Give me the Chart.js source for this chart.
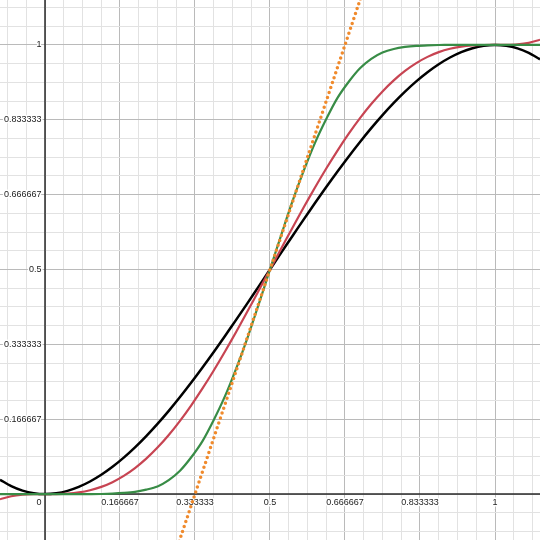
<!DOCTYPE html>
<html>
<head>
<meta charset="utf-8">
<script src="https://cdn.jsdelivr.net/npm/chart.js@4.4.1/dist/chart.umd.min.js"></script>
<style>
  html, body { margin: 0; padding: 0; background: #fff; }
  #wrap { width: 540px; height: 540px; }
</style>
</head>
<body>
<div id="wrap"><canvas id="chart" width="540" height="540"></canvas></div>
<script>
// Sample points (x every 0.025)
const xs = [-0.1, -0.075, -0.05, -0.025, 0, 0.025, 0.05, 0.075, 0.1, 0.125, 0.15, 0.175, 0.2, 0.225, 0.25, 0.275,
            0.3, 0.325, 0.35, 0.375, 0.4, 0.425, 0.45, 0.475, 0.5, 0.525, 0.55, 0.575, 0.6, 0.625, 0.65, 0.675,
            0.7, 0.725, 0.75, 0.775, 0.8, 0.825, 0.85, 0.875, 0.9, 0.925, 0.95, 0.975, 1, 1.025, 1.05, 1.075, 1.1];

const blackYs = [0.032, 0.01772, 0.00775, 0.00191, 0, 0.00184, 0.00725, 0.01603, 0.028, 0.04297, 0.06075, 0.08116,
                 0.104, 0.12909, 0.15625, 0.18528, 0.216, 0.24822, 0.28175, 0.31641, 0.352, 0.38834, 0.42525, 0.46253,
                 0.5, 0.53747, 0.57475, 0.61166, 0.648, 0.68359, 0.71825, 0.75178, 0.784, 0.81472, 0.84375, 0.87091,
                 0.896, 0.91884, 0.93925, 0.95703, 0.972, 0.98397, 0.99275, 0.99816, 1, 0.99809, 0.99225, 0.98228, 0.968];

const redYs = [-0.01156, -0.00471, -0.00135, -0.00016, 0, 0.00015, 0.00116, 0.00376, 0.00856, 0.01605, 0.02661, 0.04051,
               0.05792, 0.07892, 0.10352, 0.13162, 0.16308, 0.19769, 0.23517, 0.27521, 0.31744, 0.36147, 0.40687, 0.4532,
               0.5, 0.5468, 0.59313, 0.63853, 0.68256, 0.72479, 0.76483, 0.80231, 0.83692, 0.86838, 0.89648, 0.92108,
               0.94208, 0.95949, 0.97339, 0.98395, 0.99144, 0.99624, 0.99884, 0.99985, 1, 1.00016, 1.00135, 1.00471, 1.01156];

const greenYs = [0, 0, 0, 0, 0, 0, 0, 0, 0, 0.0002, 0.001, 0.0025,
                 0.005, 0.01, 0.017, 0.031, 0.052, 0.082, 0.118, 0.165, 0.218, 0.28, 0.348, 0.423,
                 0.5, 0.577, 0.652, 0.72, 0.782, 0.835, 0.882, 0.918, 0.948, 0.969, 0.983, 0.991,
                 0.9955, 0.998, 0.9992, 0.9998, 1, 1, 1, 1, 1, 1, 1, 1, 1];

// dotted tangent line through (0.5, 0.5)
const orangeXs = [0.28, 0.72];
const orangeYs = [-0.16, 1.16];

// axis tick labels
const xTickValues = [0.166667, 0.333333, 0.5, 0.666667, 0.833333, 1];
const xTickLabels = ['0.166667', '0.333333', '0.5', '0.666667', '0.833333', '1'];
const yTickValues = [0.166667, 0.333333, 0.5, 0.666667, 0.833333, 1];
const yTickLabels = ['0.166667', '0.333333', '0.5', '0.666667', '0.833333', '1'];

const toPoints = (px, py) => px.map((x, i) => ({ x: x, y: py[i] }));

// grid every 1/24, darker every 1/6
const gridValues = [];
for (let k = -2; k <= 26; k++) gridValues.push(k / 24);

const gridOpts = {
    drawTicks: false,
    lineWidth: 1,
    color: (ctx) => {
        const k = Math.round(ctx.tick.value * 24);
        return k % 4 === 0 ? '#bababa' : '#e2e2e2';
    }
};

// axes lines + labels, drawn above the grid but under the curves
const axesPlugin = {
    id: 'axesAndLabels',
    beforeDatasetsDraw(chart) {
        const { ctx, chartArea, scales } = chart;
        const x0 = scales.x.getPixelForValue(0);
        const y0 = scales.y.getPixelForValue(0);

        ctx.save();
        ctx.strokeStyle = '#2b2b2b';
        ctx.lineWidth = 1.5;
        ctx.beginPath();
        ctx.moveTo(chartArea.left, y0);
        ctx.lineTo(chartArea.right, y0);
        ctx.moveTo(x0, chartArea.top);
        ctx.lineTo(x0, chartArea.bottom);
        ctx.stroke();

        ctx.font = '9px "Liberation Sans", Arial, sans-serif';
        ctx.lineJoin = 'round';
        const label = (text, x, y) => {
            ctx.strokeStyle = '#fff';
            ctx.lineWidth = 3;
            ctx.strokeText(text, x, y);
            ctx.fillStyle = '#222';
            ctx.fillText(text, x, y);
        };

        ctx.textAlign = 'center';
        ctx.textBaseline = 'top';
        xTickValues.forEach((v, i) => {
            label(xTickLabels[i], scales.x.getPixelForValue(v), y0 + 3.5);
        });

        ctx.textAlign = 'right';
        ctx.textBaseline = 'middle';
        yTickValues.forEach((v, i) => {
            label(yTickLabels[i], x0 - 3.5, scales.y.getPixelForValue(v));
        });

        ctx.textBaseline = 'top';
        label('0', x0 - 3.5, y0 + 3.5);
        ctx.restore();
    }
};

new Chart(document.getElementById('chart'), {
    type: 'line',
    data: {
        datasets: [
            {
                label: 'tangent',
                data: toPoints(orangeXs, orangeYs),
                borderColor: '#f08a2c',
                borderWidth: 3.5,
                borderDash: [0, 5.2],
                borderCapStyle: 'round',
                tension: 0
            },
            {
                label: 'green',
                data: toPoints(xs, greenYs),
                borderColor: '#388c46',
                borderWidth: 2.2
            },
            {
                label: 'red',
                data: toPoints(xs, redYs),
                borderColor: '#c74452',
                borderWidth: 2.2
            },
            {
                label: 'black',
                data: toPoints(xs, blackYs),
                borderColor: '#000000',
                borderWidth: 2.5
            }
        ]
    },
    options: {
        responsive: false,
        animation: false,
        devicePixelRatio: 1,
        layout: { padding: 0, autoPadding: false },
        elements: {
            point: { radius: 0 },
            line: { tension: 0.3, borderJoinStyle: 'round' }
        },
        plugins: {
            legend: { display: false },
            tooltip: { enabled: false }
        },
        scales: {
            x: {
                type: 'linear',
                min: -0.1,
                max: 1.1,
                afterBuildTicks: (scale) => { scale.ticks = gridValues.map(v => ({ value: v })); },
                ticks: { display: false },
                border: { display: false },
                grid: gridOpts
            },
            y: {
                type: 'linear',
                min: -0.1022,
                max: 1.1,
                afterBuildTicks: (scale) => { scale.ticks = gridValues.map(v => ({ value: v })); },
                ticks: { display: false },
                border: { display: false },
                grid: gridOpts
            }
        }
    },
    plugins: [axesPlugin]
});
</script>
</body>
</html>
